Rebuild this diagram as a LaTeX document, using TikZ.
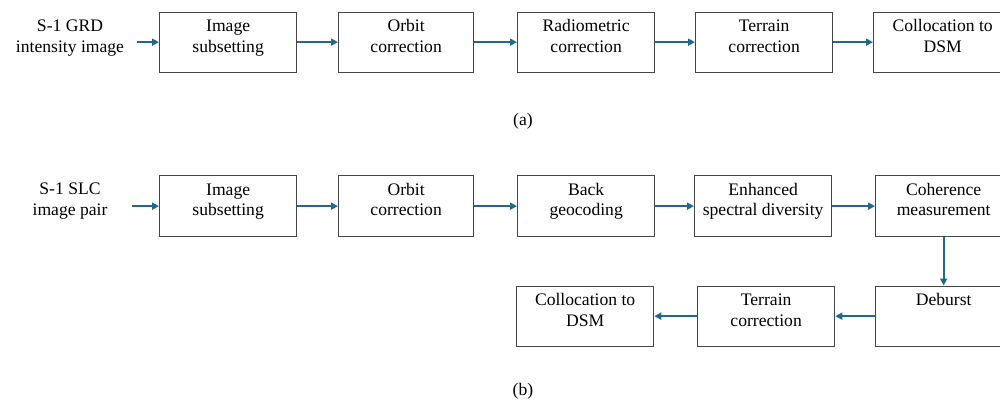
\documentclass[tikz,border=0pt]{standalone}
\usepackage{fontspec}
\setmainfont{Liberation Serif}
\usetikzlibrary{arrows.meta}
\definecolor{arrowblue}{RGB}{31,105,140}
\definecolor{boxgray}{RGB}{70,70,70}
\tikzset{
  stagebox/.style={draw=boxgray, line width=1.3pt, rectangle, inner sep=0pt,
    anchor=north west, minimum height=60pt},
  stagetxt/.style={anchor=base, align=center, inner sep=0pt,
    font={\fontsize{17.6}{20.5}\selectfont}},
  flowarr/.style={draw=arrowblue, line width=2pt,
    -{Triangle[length=7pt,width=7pt]}},
}
\begin{document}
\begin{tikzpicture}[x=1pt,y=-1pt]
\useasboundingbox (0,0) rectangle (1000,402);
\clip (0,0) rectangle (1000,402);
\fill[white] (0,0) rectangle (1000,402);

% ---------- (a) ----------
\node[stagetxt] (ain) at (70,52) {S-1 GRD\\intensity image};
\coordinate (ain0) at (137,41);
\node[stagebox, minimum width=137pt] (a1) at (159,11.5) {};
\node[stagebox, minimum width=135pt] (a2) at (338,11.5) {};
\node[stagebox, minimum width=137pt] (a3) at (517,11.5) {};
\node[stagebox, minimum width=137pt] (a4) at (695,11.5) {};
\node[stagebox, minimum width=138pt] (a5) at (873,11.5) {};
\node[stagetxt] (a1t) at ([yshift=-40.5pt]a1.north) {Image\\subsetting};
\node[stagetxt] (a2t) at ([yshift=-40.5pt]a2.north) {Orbit\\correction};
\node[stagetxt] (a3t) at ([yshift=-40.5pt]a3.north) {Radiometric\\correction};
\node[stagetxt] (a4t) at ([yshift=-40.5pt]a4.north) {Terrain\\correction};
\node[stagetxt] (a5t) at ([yshift=-40.5pt]a5.north) {Collocation to\\DSM};
\draw[flowarr] (ain0 |- a1.west) -- (a1.west);
\draw[flowarr] (a1.east) -- (a2.west);
\draw[flowarr] (a2.east) -- (a3.west);
\draw[flowarr] (a3.east) -- (a4.west);
\draw[flowarr] (a4.east) -- (a5.west);
\node[stagetxt] (alab) at (523,125) {(a)};

% ---------- (b) ----------
\node[stagetxt] (bin) at (70,215) {S-1 SLC\\image pair};
\coordinate (bin0) at (132,205);
\node[stagebox, minimum width=137pt, minimum height=61pt] (b1) at (159,175) {};
\node[stagebox, minimum width=135pt, minimum height=61pt] (b2) at (338,175) {};
\node[stagebox, minimum width=137pt, minimum height=61pt] (b3) at (517,175) {};
\node[stagebox, minimum width=137pt, minimum height=61pt] (b4) at (694,175) {};
\node[stagebox, minimum width=136pt, minimum height=61pt] (b5) at (875,175) {};
\node[stagebox, minimum width=136pt] (b6) at (875,285.5) {};
\node[stagebox, minimum width=137pt] (b7) at (697,285.5) {};
\node[stagebox, minimum width=137pt] (b8) at (516,285.5) {};
\node[stagetxt] (b1t) at ([yshift=-40.5pt]b1.north) {Image\\subsetting};
\node[stagetxt] (b2t) at ([yshift=-40.5pt]b2.north) {Orbit\\correction};
\node[stagetxt] (b3t) at ([yshift=-40.5pt]b3.north) {Back\\geocoding};
\node[stagetxt] (b4t) at ([yshift=-40.5pt]b4.north) {Enhanced\\spectral diversity};
\node[stagetxt] (b5t) at ([yshift=-40.5pt]b5.north) {Coherence\\measurement};
\node[stagetxt] (b6t) at ([yshift=-20pt]b6.north) {Deburst};
\node[stagetxt] (b7t) at ([yshift=-40.5pt]b7.north) {Terrain\\correction};
\node[stagetxt] (b8t) at ([yshift=-40.5pt]b8.north) {Collocation to\\DSM};
\draw[flowarr] (bin0 |- b1.west) -- (b1.west);
\draw[flowarr] (b1.east) -- (b2.west);
\draw[flowarr] (b2.east) -- (b3.west);
\draw[flowarr] (b3.east) -- (b4.west);
\draw[flowarr] (b4.east) -- (b5.west);
\draw[flowarr] (b5.south) -- (b6.north);
\draw[flowarr] (b6.west) -- (b7.east);
\draw[flowarr] (b7.west) -- (b8.east);
\node[stagetxt] (blab) at (523,395) {(b)};
\end{tikzpicture}
\end{document}
